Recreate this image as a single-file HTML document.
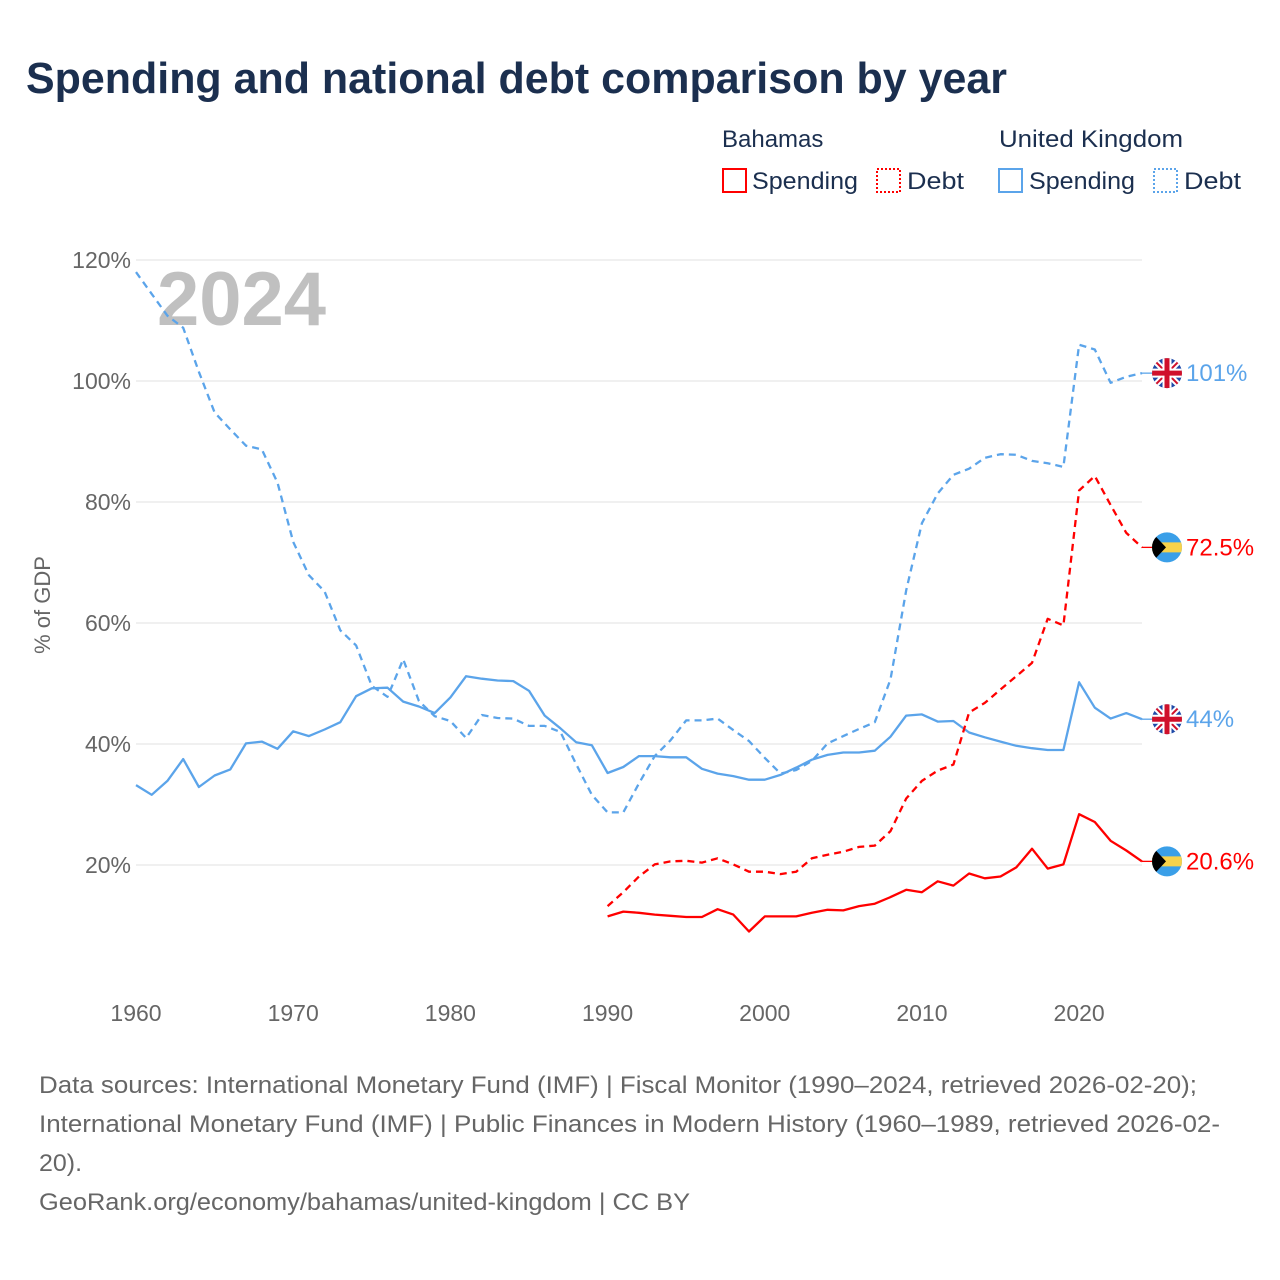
<!DOCTYPE html>
<html><head><meta charset="utf-8">
<style>
body{margin:0;background:#fff;font-family:"Liberation Sans",sans-serif;}
#wrap{position:relative;width:1280px;height:1280px;overflow:hidden;}
</style></head>
<body>
<div id="wrap">
<svg id="chart" width="1280" height="1280" xmlns="http://www.w3.org/2000/svg">
<defs>
<clipPath id="fc1"><circle cx="0" cy="0" r="15"/></clipPath>
</defs>
<text x="26" y="93" font-size="44" font-weight="bold" fill="#1b2f4f" textLength="981" lengthAdjust="spacingAndGlyphs">Spending and national debt comparison by year</text>
<g font-size="24" fill="#1b2f4f">
<text x="722" y="147">Bahamas</text>
<text x="999" y="147" textLength="184" lengthAdjust="spacingAndGlyphs">United Kingdom</text>
<g><rect x="723" y="169" width="23" height="23" fill="none" stroke="#ff0000" stroke-width="2"/><text x="752" y="189" textLength="106" lengthAdjust="spacingAndGlyphs">Spending</text></g>
<g><rect x="877" y="169" width="23" height="23" fill="none" stroke="#ff0000" stroke-width="2" stroke-dasharray="2,2"/><text x="907" y="189" textLength="57" lengthAdjust="spacingAndGlyphs">Debt</text></g>
<g><rect x="999" y="169" width="23" height="23" fill="none" stroke="#5ba4ea" stroke-width="2"/><text x="1029" y="189" textLength="106" lengthAdjust="spacingAndGlyphs">Spending</text></g>
<g><rect x="1154" y="169" width="23" height="23" fill="none" stroke="#5ba4ea" stroke-width="2" stroke-dasharray="2,2"/><text x="1184" y="189" textLength="57" lengthAdjust="spacingAndGlyphs">Debt</text></g>
</g>
<g id="grid"></g>
<text x="157" y="325" font-size="76" font-weight="bold" fill="#c0c0c0">2024</text>
<text transform="translate(50,605) rotate(-90)" text-anchor="middle" font-size="22" fill="#666">% of GDP</text>
<g id="series"></g>
<g id="ends"></g>
<g font-size="24" fill="#666">
<text x="39" y="1093" textLength="1158" lengthAdjust="spacingAndGlyphs">Data sources: International Monetary Fund (IMF) | Fiscal Monitor (1990–2024, retrieved 2026-02-20);</text>
<text x="39" y="1132" textLength="1181" lengthAdjust="spacingAndGlyphs">International Monetary Fund (IMF) | Public Finances in Modern History (1960–1989, retrieved 2026-02-</text>
<text x="39" y="1171" textLength="43" lengthAdjust="spacingAndGlyphs">20).</text>
<text x="39" y="1210" textLength="651" lengthAdjust="spacingAndGlyphs">GeoRank.org/economy/bahamas/united-kingdom | CC BY</text>
</g>
</svg>
</div>
<script>
const ukYears = [1960,1961,1962,1963,1964,1965,1966,1967,1968,1969,1970,1971,1972,1973,1974,1975,1976,1977,1978,1979,1980,1981,1982,1983,1984,1985,1986,1987,1988,1989,1990,1991,1992,1993,1994,1995,1996,1997,1998,1999,2000,2001,2002,2003,2004,2005,2006,2007,2008,2009,2010,2011,2012,2013,2014,2015,2016,2017,2018,2019,2020,2021,2022,2023,2024];
const ukDebt = [118,114.4,110.8,108.8,101.5,94.8,92,89.3,88.7,83.2,73.4,67.9,65.2,58.8,56.3,49.6,47.8,54,47.1,44.6,43.8,41,44.8,44.3,44.2,43,43,42,36.7,31.6,28.7,28.7,33.5,38,40.6,43.9,43.9,44.2,42.3,40.5,37.7,35.1,35.7,37.2,40.1,41.3,42.5,43.6,50.7,65.4,76.5,81.4,84.5,85.5,87.3,87.9,87.8,86.8,86.4,85.8,106,105.2,99.7,100.7,101.3];
const ukSpending = [33.2,31.6,33.9,37.5,32.9,34.8,35.8,40.1,40.4,39.2,42.1,41.3,42.4,43.6,47.9,49.2,49.3,47,46.2,45.1,47.7,51.2,50.8,50.5,50.4,48.8,44.7,42.6,40.3,39.8,35.2,36.2,38,38,37.8,37.8,35.9,35.1,34.7,34.1,34.1,34.9,36.1,37.4,38.2,38.6,38.6,38.9,41.2,44.7,44.9,43.7,43.8,41.9,41.1,40.4,39.7,39.3,39,39,50.2,46,44.2,45.1,44.1];
const bhsYears = [1990,1991,1992,1993,1994,1995,1996,1997,1998,1999,2000,2001,2002,2003,2004,2005,2006,2007,2008,2009,2010,2011,2012,2013,2014,2015,2016,2017,2018,2019,2020,2021,2022,2023,2024];
const bhsDebt = [13.2,15.5,18.1,20.1,20.6,20.7,20.4,21.1,20.1,18.9,18.9,18.5,18.9,21.1,21.7,22.2,23,23.2,25.6,31,33.9,35.6,36.6,45.2,46.8,49,51.2,53.4,60.7,59.6,81.9,84.3,79.5,74.9,72.5];
const bhsSpending = [11.5,12.3,12.1,11.8,11.6,11.4,11.4,12.7,11.8,9,11.5,11.5,11.5,12.1,12.6,12.5,13.2,13.6,14.7,15.9,15.5,17.3,16.6,18.6,17.8,18.1,19.6,22.7,19.4,20.1,28.4,27.1,24,22.4,20.6];
const yTicks = [20,40,60,80,100,120];
const xTicks = [1960,1970,1980,1990,2000,2010,2020];
const endLabels = ["101%","72.5%","44%","20.6%"];

const NS="http://www.w3.org/2000/svg";
const X0=136, X1=1142, Y0=986, Y120=260;
function xs(y){return X0+(y-1960)*(X1-X0)/(2024-1960);}
function ys(v){return Y0-v*(Y0-Y120)/120;}
function mk(tag,attrs,parent){const e=document.createElementNS(NS,tag);for(const k in attrs)e.setAttribute(k,attrs[k]);parent.appendChild(e);return e;}

const grid=document.getElementById('grid');
yTicks.forEach(t=>{
  const l=mk('line',{x1:X0,x2:X1,y1:ys(t),y2:ys(t),stroke:'#e6e6e6','stroke-width':1.3},grid);
  
  
  const tx=mk('text',{x:131,y:ys(t)+8,'text-anchor':'end','font-size':23,fill:'#666'},grid);
  tx.textContent=t+'%';
  
  
});
xTicks.forEach(t=>{
  const tx=mk('text',{x:xs(t),y:1021,'text-anchor':'middle','font-size':23,fill:'#666'},grid);
  tx.textContent=t;
  
  
});

const ser=document.getElementById('series');
function line(years,vals,color,dash,name){
  const d=years.map((y,i)=>(i?'L':'M')+xs(y).toFixed(1)+','+ys(vals[i]).toFixed(1)).join('');
  const p=mk('path',{d:d,fill:'none',stroke:color,'stroke-width':2.3,'stroke-linejoin':'round'},ser);
  if(dash)p.setAttribute('stroke-dasharray','7,5');
  
  
}
const BLUE='#5ba4ea', RED='#ff0000';
line(ukYears,ukDebt,BLUE,true,'uk-debt-line');
line(ukYears,ukSpending,BLUE,false,'uk-spending-line');
line(bhsYears,bhsDebt,RED,true,'bahamas-debt-line');
line(bhsYears,bhsSpending,RED,false,'bahamas-spending-line');

const ends=document.getElementById('ends');
const FX=1167;
function ukFlag(cy){
  const g=mk('g',{transform:'translate('+FX+','+cy+')','clip-path':'url(#fc1)'},ends);
  
  
  mk('rect',{x:-16,y:-16,width:32,height:32,fill:'#1f4aa8'},g);
  mk('path',{d:'M-16,-16L16,16M16,-16L-16,16',stroke:'#fff','stroke-width':6},g);
  mk('path',{d:'M-16,-16L16,16M16,-16L-16,16',stroke:'#d0102b','stroke-width':2},g);
  mk('path',{d:'M0,-16V16M-16,0H16',stroke:'#fff','stroke-width':9},g);
  mk('path',{d:'M0,-16V16M-16,0H16',stroke:'#d0102b','stroke-width':5},g);
}
function bhsFlag(cy){
  const g=mk('g',{transform:'translate('+FX+','+cy+')','clip-path':'url(#fc1)'},ends);
  
  
  mk('rect',{x:-16,y:-16,width:32,height:32,fill:'#3a9fe8'},g);
  mk('rect',{x:-16,y:-5,width:32,height:10,fill:'#f7d24a'},g);
  mk('path',{d:'M-16,-16L-1,0L-16,16Z',fill:'#000'},g);
}
function endpoint(years,vals,color,flag,label,name){
  const n=years.length-1, x=xs(years[n]), y=ys(vals[n]);
  const l=mk('line',{x1:x,x2:FX-14,y1:y,y2:y,stroke:color,'stroke-width':1.3},ends);
  
  
  flag(y);
  const t=mk('text',{x:1186,y:y+8,'font-size':24,fill:color},ends);
  t.textContent=label;
  
  
}
endpoint(ukYears,ukDebt,BLUE,ukFlag,endLabels[0],'uk-debt');
endpoint(bhsYears,bhsDebt,RED,bhsFlag,endLabels[1],'bahamas-debt');
endpoint(ukYears,ukSpending,BLUE,ukFlag,endLabels[2],'uk-spending');
endpoint(bhsYears,bhsSpending,RED,bhsFlag,endLabels[3],'bahamas-spending');
</script>
</body></html>
